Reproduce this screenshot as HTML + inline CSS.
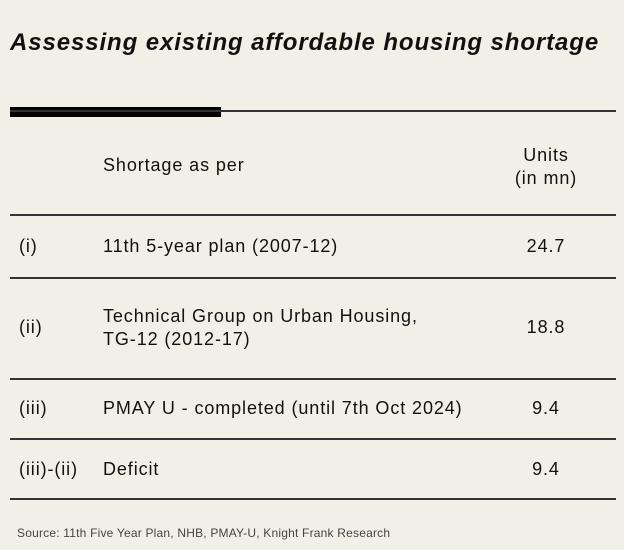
<!DOCTYPE html>
<html><head><style>
body{margin:0;width:624px;height:550px;background:#f1f0e6;font-family:"Liberation Sans",sans-serif;color:#111;position:relative;overflow:hidden}
.a{position:absolute;white-space:nowrap}
.t{font-size:18px;letter-spacing:0.9px}
.h{height:2px;background:#333;position:absolute;left:10px;width:606px}
.v{width:80px;text-align:center;left:506px}
</style></head><body>
<div class="a" style="left:10px;top:29px;font-size:24px;font-style:italic;font-weight:bold;letter-spacing:0.9px">Assessing existing affordable housing shortage</div>
<div class="a" style="left:10px;top:107px;width:211px;height:10px;background:#000"></div>
<div class="h" style="top:110px;height:2px"></div>
<div class="a t" style="left:103px;top:155px">Shortage as per</div>
<div class="a t v" style="top:144px;line-height:23px">Units<br>(in mn)</div>
<div class="h" style="top:214px"></div>
<div class="a t" style="left:19px;top:236px">(i)</div>
<div class="a t" style="left:103px;top:236px">11th 5-year plan (2007-12)</div>
<div class="a t v" style="top:236px">24.7</div>
<div class="h" style="top:277px"></div>
<div class="a t" style="left:19px;top:317px">(ii)</div>
<div class="a t" style="left:103px;top:305px;line-height:23px">Technical Group on Urban Housing,<br>TG-12 (2012-17)</div>
<div class="a t v" style="top:317px">18.8</div>
<div class="h" style="top:378px"></div>
<div class="a t" style="left:19px;top:398px">(iii)</div>
<div class="a t" style="left:103px;top:398px">PMAY U - completed (until 7th Oct 2024)</div>
<div class="a t v" style="top:398px">9.4</div>
<div class="h" style="top:438px"></div>
<div class="a t" style="left:19px;top:459px">(iii)-(ii)</div>
<div class="a t" style="left:103px;top:459px">Deficit</div>
<div class="a t v" style="top:459px">9.4</div>
<div class="h" style="top:498px"></div>
<div class="a" style="left:17px;top:526px;font-size:12px;color:#444;letter-spacing:0.2px">Source: 11th Five Year Plan, NHB, PMAY-U, Knight Frank Research</div>
</body></html>
